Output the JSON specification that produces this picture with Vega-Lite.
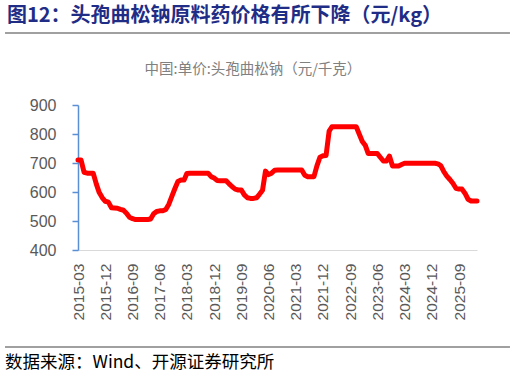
{
  "$schema": "https://vega.github.io/schema/vega-lite/v6.json",
  "width": 399,
  "height": 145,
  "autosize": {"type": "none"},
  "padding": {"left": 78, "top": 105, "right": 38, "bottom": 126},
  "background": "white",
  "config": {"view": {"stroke": null}},
  "datasets": {
    "price": [
      {"date": "2015-03-01", "price": 710}, {"date": "2015-04-01", "price": 710}, {"date": "2015-05-01", "price": 668},
      {"date": "2015-06-01", "price": 665}, {"date": "2015-07-01", "price": 665}, {"date": "2015-08-01", "price": 665},
      {"date": "2015-09-01", "price": 628}, {"date": "2015-10-01", "price": 598}, {"date": "2015-11-01", "price": 580},
      {"date": "2015-12-01", "price": 568}, {"date": "2016-01-01", "price": 565}, {"date": "2016-02-01", "price": 546},
      {"date": "2016-03-01", "price": 545}, {"date": "2016-04-01", "price": 544}, {"date": "2016-05-01", "price": 540},
      {"date": "2016-06-01", "price": 537}, {"date": "2016-07-01", "price": 527}, {"date": "2016-08-01", "price": 513},
      {"date": "2016-09-01", "price": 508}, {"date": "2016-10-01", "price": 505}, {"date": "2016-11-01", "price": 505},
      {"date": "2016-12-01", "price": 505}, {"date": "2017-01-01", "price": 505}, {"date": "2017-02-01", "price": 505},
      {"date": "2017-03-01", "price": 507}, {"date": "2017-04-01", "price": 525}, {"date": "2017-05-01", "price": 533},
      {"date": "2017-06-01", "price": 535}, {"date": "2017-07-01", "price": 535}, {"date": "2017-08-01", "price": 540},
      {"date": "2017-09-01", "price": 558}, {"date": "2017-10-01", "price": 585}, {"date": "2017-11-01", "price": 612},
      {"date": "2017-12-01", "price": 636}, {"date": "2018-01-01", "price": 641}, {"date": "2018-02-01", "price": 641},
      {"date": "2018-03-01", "price": 664}, {"date": "2018-04-01", "price": 665}, {"date": "2018-05-01", "price": 665},
      {"date": "2018-06-01", "price": 665}, {"date": "2018-07-01", "price": 665}, {"date": "2018-08-01", "price": 665},
      {"date": "2018-09-01", "price": 665}, {"date": "2018-10-01", "price": 665}, {"date": "2018-11-01", "price": 653},
      {"date": "2018-12-01", "price": 648}, {"date": "2019-01-01", "price": 640}, {"date": "2019-02-01", "price": 639},
      {"date": "2019-03-01", "price": 639}, {"date": "2019-04-01", "price": 639}, {"date": "2019-05-01", "price": 628},
      {"date": "2019-06-01", "price": 618}, {"date": "2019-07-01", "price": 610}, {"date": "2019-08-01", "price": 607},
      {"date": "2019-09-01", "price": 607}, {"date": "2019-10-01", "price": 590}, {"date": "2019-11-01", "price": 580},
      {"date": "2019-12-01", "price": 578}, {"date": "2020-01-01", "price": 578}, {"date": "2020-02-01", "price": 580},
      {"date": "2020-03-01", "price": 592}, {"date": "2020-04-01", "price": 606}, {"date": "2020-05-01", "price": 672},
      {"date": "2020-06-01", "price": 660}, {"date": "2020-07-01", "price": 665}, {"date": "2020-08-01", "price": 675},
      {"date": "2020-09-01", "price": 676}, {"date": "2020-10-01", "price": 676}, {"date": "2020-11-01", "price": 676},
      {"date": "2020-12-01", "price": 676}, {"date": "2021-01-01", "price": 676}, {"date": "2021-02-01", "price": 676},
      {"date": "2021-03-01", "price": 676}, {"date": "2021-04-01", "price": 676}, {"date": "2021-05-01", "price": 676},
      {"date": "2021-06-01", "price": 658}, {"date": "2021-07-01", "price": 653}, {"date": "2021-08-01", "price": 653},
      {"date": "2021-09-01", "price": 653}, {"date": "2021-10-01", "price": 690}, {"date": "2021-11-01", "price": 720},
      {"date": "2021-12-01", "price": 725}, {"date": "2022-01-01", "price": 726}, {"date": "2022-02-01", "price": 810},
      {"date": "2022-03-01", "price": 825}, {"date": "2022-04-01", "price": 825}, {"date": "2022-05-01", "price": 825},
      {"date": "2022-06-01", "price": 825}, {"date": "2022-07-01", "price": 825}, {"date": "2022-08-01", "price": 825},
      {"date": "2022-09-01", "price": 825}, {"date": "2022-10-01", "price": 825}, {"date": "2022-11-01", "price": 825},
      {"date": "2022-12-01", "price": 800}, {"date": "2023-01-01", "price": 774}, {"date": "2023-02-01", "price": 760},
      {"date": "2023-03-01", "price": 733}, {"date": "2023-04-01", "price": 733}, {"date": "2023-05-01", "price": 733},
      {"date": "2023-06-01", "price": 733}, {"date": "2023-07-01", "price": 720}, {"date": "2023-08-01", "price": 707},
      {"date": "2023-09-01", "price": 707}, {"date": "2023-10-01", "price": 724}, {"date": "2023-11-01", "price": 690},
      {"date": "2023-12-01", "price": 690}, {"date": "2024-01-01", "price": 690}, {"date": "2024-02-01", "price": 695},
      {"date": "2024-03-01", "price": 699}, {"date": "2024-04-01", "price": 699}, {"date": "2024-05-01", "price": 699},
      {"date": "2024-06-01", "price": 699}, {"date": "2024-07-01", "price": 699}, {"date": "2024-08-01", "price": 699},
      {"date": "2024-09-01", "price": 699}, {"date": "2024-10-01", "price": 699}, {"date": "2024-11-01", "price": 699},
      {"date": "2024-12-01", "price": 699}, {"date": "2025-01-01", "price": 699}, {"date": "2025-02-01", "price": 697},
      {"date": "2025-03-01", "price": 691}, {"date": "2025-04-01", "price": 670}, {"date": "2025-05-01", "price": 655},
      {"date": "2025-06-01", "price": 643}, {"date": "2025-07-01", "price": 630}, {"date": "2025-08-01", "price": 613},
      {"date": "2025-09-01", "price": 610}, {"date": "2025-10-01", "price": 610}, {"date": "2025-11-01", "price": 595},
      {"date": "2025-12-01", "price": 575}, {"date": "2026-01-01", "price": 569}, {"date": "2026-02-01", "price": 569},
      {"date": "2026-03-01", "price": 569}
    ]
  },
  "layer": [
    {
      "data": {"name": "price"},
      "mark": {"type": "line", "color": "#FF0000", "strokeWidth": 5, "strokeCap": "round", "strokeJoin": "round"},
      "encoding": {
        "x": {
          "field": "date",
          "type": "temporal",
          "scale": {
            "type": "utc",
            "nice": false,
            "domain": [
              {"year": 2015, "month": 3, "date": 1, "utc": true},
              {"year": 2026, "month": 3, "date": 1, "utc": true}
            ]
          },
          "axis": {
            "title": null,
            "grid": false,
            "ticks": false,
            "tickSize": 0,
            "tickCount": 40,
            "domainColor": "#D9D9D9",
            "domainWidth": 1,
            "labelAngle": 270,
            "labelAlign": "right",
            "labelBaseline": "middle",
            "labelPadding": 13,
            "labelFont": "Liberation Sans",
            "labelFontSize": 15.5,
            "labelColor": "#595959",
            "labelOverlap": false,
            "format": "%Y-%m",
            "values": [
              {"year": 2015, "month": 3, "date": 1, "utc": true},
              {"year": 2015, "month": 12, "date": 1, "utc": true},
              {"year": 2016, "month": 9, "date": 1, "utc": true},
              {"year": 2017, "month": 6, "date": 1, "utc": true},
              {"year": 2018, "month": 3, "date": 1, "utc": true},
              {"year": 2018, "month": 12, "date": 1, "utc": true},
              {"year": 2019, "month": 9, "date": 1, "utc": true},
              {"year": 2020, "month": 6, "date": 1, "utc": true},
              {"year": 2021, "month": 3, "date": 1, "utc": true},
              {"year": 2021, "month": 12, "date": 1, "utc": true},
              {"year": 2022, "month": 9, "date": 1, "utc": true},
              {"year": 2023, "month": 6, "date": 1, "utc": true},
              {"year": 2024, "month": 3, "date": 1, "utc": true},
              {"year": 2024, "month": 12, "date": 1, "utc": true},
              {"year": 2025, "month": 9, "date": 1, "utc": true}
            ]
          }
        },
        "y": {
          "field": "price",
          "type": "quantitative",
          "scale": {"domain": [400, 900], "nice": false, "zero": false},
          "axis": {
            "title": null,
            "grid": false,
            "values": [400, 500, 600, 700, 800, 900],
            "tickCount": 20,
            "labelOverlap": false,
            "domainColor": "#5B8FD5",
            "domainWidth": 1.5,
            "tickColor": "#5B8FD5",
            "tickWidth": 1.5,
            "tickSize": 6,
            "labelPadding": 16,
            "labelFont": "Liberation Sans",
            "labelFontSize": 16,
            "labelColor": "#595959"
          }
        }
      }
    },
    {
      "data": {"values": [{}]},
      "mark": {"type": "text", "align": "left", "baseline": "middle", "font": "Noto Sans CJK SC", "fontSize": 20, "fontWeight": "bold", "color": "#1F2D86"},
      "encoding": {
        "x": {"datum": {"year": 2013, "month": 3, "date": 16, "utc": true}, "type": "temporal"},
        "y": {"datum": 1208, "type": "quantitative"},
        "text": {"value": "图12：头孢曲松钠原料药价格有所下降（元/kg）"}
      }
    },
    {
      "data": {"values": [{}]},
      "mark": {"type": "rule", "color": "#808080", "strokeWidth": 1.5},
      "encoding": {
        "x": {"datum": {"year": 2013, "month": 2, "date": 24, "utc": true}, "type": "temporal"},
        "x2": {"datum": {"year": 2027, "month": 1, "date": 27, "utc": true}},
        "y": {"datum": 1148, "type": "quantitative"}
      }
    },
    {
      "data": {"values": [{}]},
      "mark": {"type": "text", "align": "center", "baseline": "middle", "font": "Noto Sans CJK SC", "fontSize": 14.5, "color": "#808080"},
      "encoding": {
        "x": {"datum": {"year": 2019, "month": 12, "date": 27, "utc": true}, "type": "temporal"},
        "y": {"datum": 1019, "type": "quantitative"},
        "text": {"value": "中国:单价:头孢曲松钠（元/千克）"}
      }
    },
    {
      "data": {"values": [{}]},
      "mark": {"type": "rule", "color": "#808080", "strokeWidth": 1.5},
      "encoding": {
        "x": {"datum": {"year": 2013, "month": 2, "date": 24, "utc": true}, "type": "temporal"},
        "x2": {"datum": {"year": 2027, "month": 1, "date": 27, "utc": true}},
        "y": {"datum": 65.5, "type": "quantitative"}
      }
    },
    {
      "data": {"values": [{}]},
      "mark": {"type": "text", "align": "left", "baseline": "middle", "font": "Noto Sans CJK SC", "fontSize": 17.5, "color": "#000000"},
      "encoding": {
        "x": {"datum": {"year": 2013, "month": 2, "date": 24, "utc": true}, "type": "temporal"},
        "y": {"datum": 10.3, "type": "quantitative"},
        "text": {"value": "数据来源：Wind、开源证券研究所"}
      }
    }
  ]
}
